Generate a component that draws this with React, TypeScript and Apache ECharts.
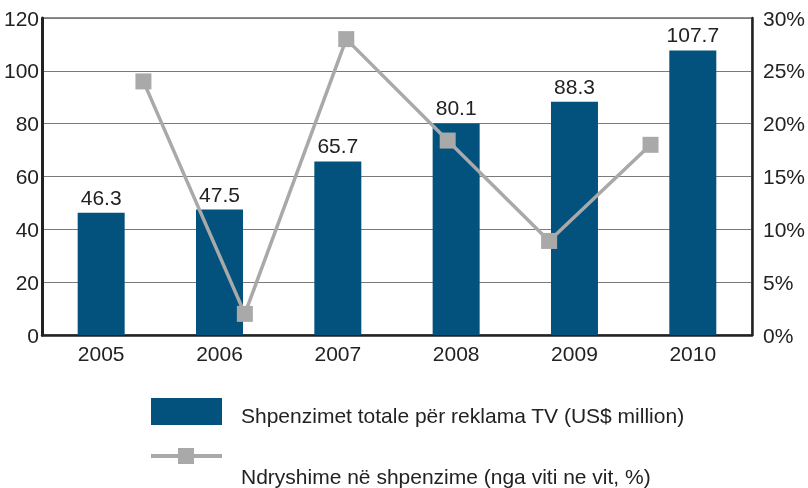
import React, { useEffect, useRef } from "react";
import * as echarts from "echarts";

const years = ["2005", "2006", "2007", "2008", "2009", "2010"];
const spending = [46.3, 47.5, 65.7, 80.1, 88.3, 107.7];
const changePct = [24, 2, 28, 18.4, 8.9, 18];
const leftTicks = { min: 0, max: 120, interval: 20 };
const rightTicks = { min: 0, max: 30, interval: 5 };
const legendBar = "Shpenzimet totale për reklama TV (US$ million)";
const legendLine = "Ndryshime në shpenzime (nga viti ne vit, %)";

const BAR = "#03527e";
const LINE = "#a9a9a9";
const FONT = "'Liberation Sans', Arial, sans-serif";

export default function App() {
  const ref = useRef<HTMLDivElement>(null);
  useEffect(() => {
    if (!ref.current) return;
    const chart = echarts.init(ref.current, null, { renderer: "svg" });
    const lineCats = ["", ...years, ""];
    const lineData = [null, ...changePct, null];
    chart.setOption({
      animation: false,
      textStyle: { fontFamily: FONT },
      grid: {
        left: 42,
        right: 48,
        top: 18,
        bottom: 153,
        show: true,
        borderColor: "#222",
        borderWidth: 1,
      },
      xAxis: [
        {
          type: "category",
          data: years,
          boundaryGap: true,
          axisLine: { lineStyle: { color: "#222", width: 2.5 } },
          axisTick: { inside: true, length: 6, lineStyle: { color: "#222", width: 2 } },
          axisLabel: { color: "#222", fontSize: 21, margin: 8, fontFamily: FONT },
        },
        {
          type: "category",
          data: lineCats,
          boundaryGap: false,
          show: false,
          position: "bottom",
        },
      ],
      yAxis: [
        {
          type: "value",
          ...leftTicks,
          axisLine: { show: true, lineStyle: { color: "#222", width: 3 } },
          axisTick: { show: false },
          axisLabel: { color: "#222", fontSize: 21, margin: 3, fontFamily: FONT },
          splitLine: { lineStyle: { color: "#7a7a7a", width: 1 } },
        },
        {
          type: "value",
          ...rightTicks,
          position: "right",
          axisLine: { show: true, lineStyle: { color: "#222", width: 2.5 } },
          axisTick: { show: false },
          axisLabel: { color: "#222", fontSize: 21, margin: 11, formatter: "{value}%", fontFamily: FONT },
          splitLine: { show: false },
        },
      ],
      series: [
        {
          name: legendBar,
          type: "bar",
          data: spending,
          xAxisIndex: 0,
          yAxisIndex: 0,
          barWidth: 47,
          itemStyle: { color: BAR },
          label: {
            show: true,
            position: "top",
            distance: 5,
            color: "#222",
            fontSize: 21,
            fontFamily: FONT,
          },
        },
        {
          name: legendLine,
          type: "line",
          data: lineData,
          xAxisIndex: 1,
          yAxisIndex: 1,
          symbol: "rect",
          symbolSize: 16,
          lineStyle: { color: LINE, width: 3.5 },
          itemStyle: { color: LINE },
          connectNulls: false,
        },
      ],
      graphic: [
        { type: "rect", shape: { x: 151, y: 398, width: 71, height: 27 }, style: { fill: BAR } },
        {
          type: "text",
          style: { text: legendBar, x: 241, y: 415, fill: "#222", font: `21px ${FONT}`, verticalAlign: "middle" },
        },
        { type: "line", shape: { x1: 151, y1: 456, x2: 222, y2: 456 }, style: { stroke: LINE, lineWidth: 4 } },
        { type: "rect", shape: { x: 178, y: 448, width: 16, height: 16 }, style: { fill: LINE } },
        {
          type: "text",
          style: { text: legendLine, x: 241, y: 476, fill: "#222", font: `21px ${FONT}`, verticalAlign: "middle" },
        },
      ],
    });
    return () => chart.dispose();
  }, []);
  return <div ref={ref} style={{ position: "fixed", left: 0, top: 0, width: 808, height: 488 }} />;
}
